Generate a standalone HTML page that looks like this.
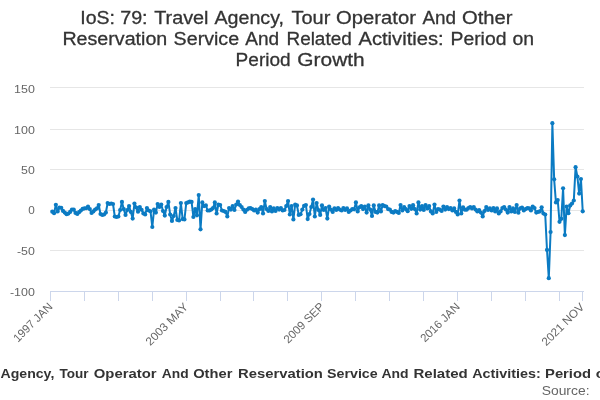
<!DOCTYPE html>
<html lang="en"><head><meta charset="utf-8"><title>IoS: 79: Travel Agency, Tour Operator And Other Reservation Service And Related Activities: Period on Period Growth</title>
<style>html,body{margin:0;padding:0;background:#ffffff;}body{width:600px;height:400px;overflow:hidden;font-family:"Liberation Sans",sans-serif;}svg{display:block;font-family:"Liberation Sans",sans-serif;will-change:transform;}</style></head><body>
<svg width="600" height="400" viewBox="0 0 600 400">
<rect x="0" y="0" width="600" height="400" fill="#ffffff"/>
<g stroke="#e6e6e6" stroke-width="1" fill="none">
<path d="M50 87.5H584"/>
<path d="M50 129.5H584"/>
<path d="M50 169.5H584"/>
<path d="M50 210.5H584"/>
<path d="M50 250.5H584"/>
</g>
<g stroke="#ccd6eb" stroke-width="1" fill="none">
<path d="M50 291.5H584"/>
<path d="M50.5 291V301"/>
<path d="M84.5 291V301"/>
<path d="M118.5 291V301"/>
<path d="M152.5 291V301"/>
<path d="M186.5 291V301"/>
<path d="M220.5 291V301"/>
<path d="M253.5 291V301"/>
<path d="M287.5 291V301"/>
<path d="M321.5 291V301"/>
<path d="M355.5 291V301"/>
<path d="M389.5 291V301"/>
<path d="M423.5 291V301"/>
<path d="M457.5 291V301"/>
<path d="M491.5 291V301"/>
<path d="M525.5 291V301"/>
<path d="M559.5 291V301"/>
<path d="M582.5 291V301"/>
</g>
<g class="series">
<path d="M52.29 211.72 L54.07 213.26 L55.86 204.73 L57.64 211.47 L59.43 207.50 L61.22 207.82 L63.00 210.91 L64.79 212.53 L66.57 214.24 L68.36 213.59 L70.15 211.88 L71.93 209.53 L73.72 209.53 L75.50 212.94 L77.29 213.91 L79.08 212.21 L80.86 210.50 L82.65 208.88 L84.43 208.31 L86.22 208.23 L88.01 206.52 L89.79 209.04 L91.58 213.02 L93.36 211.47 L95.15 209.53 L96.94 208.47 L98.72 204.98 L100.51 213.99 L102.29 214.97 L104.08 214.48 L105.87 212.53 L107.65 203.03 L109.44 204.00 L111.22 203.52 L113.01 204.00 L114.80 216.51 L116.58 217.00 L118.37 216.51 L120.15 210.01 L121.94 201.97 L123.73 209.04 L125.51 214.97 L127.30 210.01 L129.08 206.03 L130.87 211.96 L132.66 218.54 L134.44 203.52 L136.23 207.50 L138.01 211.72 L139.80 207.01 L141.59 209.77 L143.37 213.42 L145.16 214.48 L146.94 208.06 L148.73 210.50 L150.52 211.31 L152.30 226.98 L154.09 209.53 L155.87 212.53 L157.66 204.00 L159.45 207.01 L161.23 204.49 L163.02 210.99 L164.80 215.53 L166.59 207.01 L168.38 201.97 L170.16 214.48 L171.95 220.97 L173.73 216.02 L175.52 208.06 L177.31 220.00 L179.09 220.49 L180.88 203.03 L182.66 219.03 L184.45 219.43 L186.24 203.03 L188.02 202.46 L189.81 201.57 L191.59 201.97 L193.38 217.00 L195.17 209.04 L196.95 215.37 L198.74 195.07 L200.52 229.34 L202.31 202.38 L204.10 206.03 L205.88 205.47 L207.67 210.50 L209.45 210.50 L211.24 209.53 L213.03 208.06 L214.81 202.46 L216.60 213.50 L218.38 204.49 L220.17 204.98 L221.96 210.50 L223.74 210.99 L225.53 211.96 L227.31 216.51 L229.10 208.06 L230.89 209.53 L232.67 206.03 L234.46 210.01 L236.24 204.49 L238.03 201.57 L239.82 204.98 L241.60 207.01 L243.39 209.53 L245.17 211.96 L246.96 209.77 L248.75 208.47 L250.53 208.06 L252.32 209.04 L254.10 210.50 L255.89 209.53 L257.68 212.53 L259.46 209.04 L261.25 207.01 L263.03 213.50 L264.82 201.00 L266.61 209.04 L268.39 210.99 L270.18 207.01 L271.96 211.47 L273.75 208.47 L275.54 210.99 L277.32 208.06 L279.11 209.53 L280.89 208.06 L282.68 210.50 L284.47 210.01 L286.25 206.03 L288.04 201.00 L289.82 214.48 L291.61 206.03 L293.40 219.43 L295.18 204.49 L296.97 205.47 L298.75 214.97 L300.54 214.24 L302.33 209.53 L304.11 205.79 L305.90 204.98 L307.68 219.03 L309.47 213.99 L311.26 207.01 L313.04 199.54 L314.83 216.51 L316.61 203.03 L318.40 210.01 L320.19 214.97 L321.97 205.47 L323.76 210.01 L325.54 208.06 L327.33 218.54 L329.12 206.52 L330.90 209.53 L332.69 211.96 L334.47 208.47 L336.26 210.01 L338.05 208.06 L339.83 209.53 L341.62 210.50 L343.40 208.06 L345.19 210.01 L346.98 208.47 L348.76 211.96 L350.55 210.50 L352.33 209.04 L354.12 209.28 L355.91 202.46 L357.69 211.47 L359.48 207.25 L361.26 206.03 L363.05 209.04 L364.84 206.52 L366.62 212.53 L368.41 205.47 L370.19 209.53 L371.98 216.02 L373.77 205.47 L375.55 211.96 L377.34 212.53 L379.12 205.47 L380.91 211.47 L382.70 204.98 L384.48 206.03 L386.27 206.52 L388.05 209.04 L389.84 209.53 L391.63 211.96 L393.41 212.53 L395.20 210.99 L396.98 211.96 L398.77 212.94 L400.56 204.98 L402.34 210.50 L404.13 207.01 L405.91 209.04 L407.70 211.23 L409.49 206.03 L411.27 208.79 L413.06 205.22 L414.84 209.04 L416.63 213.50 L418.42 202.46 L420.20 209.53 L421.99 206.03 L423.77 210.01 L425.56 204.98 L427.35 208.47 L429.13 206.03 L430.92 211.47 L432.70 213.50 L434.49 204.49 L436.28 211.96 L438.06 209.04 L439.85 209.53 L441.63 210.99 L443.42 206.52 L445.21 209.53 L446.99 207.01 L448.78 209.04 L450.56 208.06 L452.35 210.50 L454.14 208.47 L455.92 211.96 L457.71 214.48 L459.49 200.51 L461.28 213.50 L463.07 207.25 L464.85 209.77 L466.64 209.69 L468.42 208.06 L470.21 207.01 L472.00 208.47 L473.78 207.01 L475.57 209.53 L477.35 211.47 L479.14 210.01 L480.93 212.53 L482.71 216.51 L484.50 210.99 L486.28 207.01 L488.07 210.01 L489.86 208.47 L491.64 210.50 L493.43 208.06 L495.21 211.47 L497.00 208.47 L498.79 213.50 L500.57 211.47 L502.36 208.06 L504.14 207.01 L505.93 209.53 L507.72 212.53 L509.50 207.01 L511.29 211.47 L513.07 208.47 L514.86 211.96 L516.65 204.98 L518.43 212.77 L520.22 208.31 L522.00 207.50 L523.79 210.50 L525.58 209.04 L527.36 208.06 L529.15 208.47 L530.93 210.50 L532.72 206.52 L534.51 208.06 L536.29 212.53 L538.08 211.96 L539.86 211.47 L541.65 207.25 L543.44 213.50 L545.22 214.48 L547.01 249.96 L548.79 278.14 L550.58 232.02 L552.37 123.21 L554.15 179.32 L555.94 202.46 L557.72 200.03 L559.51 221.79 L561.30 218.78 L563.08 188.25 L564.87 235.10 L566.65 206.52 L568.44 213.18 L570.23 205.47 L572.01 203.52 L573.80 200.51 L575.58 167.22 L577.37 176.48 L579.16 193.53 L580.94 178.99 L582.73 211.31" fill="none" stroke="#0b7bc3" stroke-width="2" stroke-linejoin="round" stroke-linecap="round"/>
<g fill="#0b7bc3">
<circle cx="52.29" cy="211.72" r="2.1"/>
<circle cx="54.07" cy="213.26" r="2.1"/>
<circle cx="55.86" cy="204.73" r="2.1"/>
<circle cx="57.64" cy="211.47" r="2.1"/>
<circle cx="59.43" cy="207.50" r="2.1"/>
<circle cx="61.22" cy="207.82" r="2.1"/>
<circle cx="63.00" cy="210.91" r="2.1"/>
<circle cx="64.79" cy="212.53" r="2.1"/>
<circle cx="66.57" cy="214.24" r="2.1"/>
<circle cx="68.36" cy="213.59" r="2.1"/>
<circle cx="70.15" cy="211.88" r="2.1"/>
<circle cx="71.93" cy="209.53" r="2.1"/>
<circle cx="73.72" cy="209.53" r="2.1"/>
<circle cx="75.50" cy="212.94" r="2.1"/>
<circle cx="77.29" cy="213.91" r="2.1"/>
<circle cx="79.08" cy="212.21" r="2.1"/>
<circle cx="80.86" cy="210.50" r="2.1"/>
<circle cx="82.65" cy="208.88" r="2.1"/>
<circle cx="84.43" cy="208.31" r="2.1"/>
<circle cx="86.22" cy="208.23" r="2.1"/>
<circle cx="88.01" cy="206.52" r="2.1"/>
<circle cx="89.79" cy="209.04" r="2.1"/>
<circle cx="91.58" cy="213.02" r="2.1"/>
<circle cx="93.36" cy="211.47" r="2.1"/>
<circle cx="95.15" cy="209.53" r="2.1"/>
<circle cx="96.94" cy="208.47" r="2.1"/>
<circle cx="98.72" cy="204.98" r="2.1"/>
<circle cx="100.51" cy="213.99" r="2.1"/>
<circle cx="102.29" cy="214.97" r="2.1"/>
<circle cx="104.08" cy="214.48" r="2.1"/>
<circle cx="105.87" cy="212.53" r="2.1"/>
<circle cx="107.65" cy="203.03" r="2.1"/>
<circle cx="109.44" cy="204.00" r="2.1"/>
<circle cx="111.22" cy="203.52" r="2.1"/>
<circle cx="113.01" cy="204.00" r="2.1"/>
<circle cx="114.80" cy="216.51" r="2.1"/>
<circle cx="116.58" cy="217.00" r="2.1"/>
<circle cx="118.37" cy="216.51" r="2.1"/>
<circle cx="120.15" cy="210.01" r="2.1"/>
<circle cx="121.94" cy="201.97" r="2.1"/>
<circle cx="123.73" cy="209.04" r="2.1"/>
<circle cx="125.51" cy="214.97" r="2.1"/>
<circle cx="127.30" cy="210.01" r="2.1"/>
<circle cx="129.08" cy="206.03" r="2.1"/>
<circle cx="130.87" cy="211.96" r="2.1"/>
<circle cx="132.66" cy="218.54" r="2.1"/>
<circle cx="134.44" cy="203.52" r="2.1"/>
<circle cx="136.23" cy="207.50" r="2.1"/>
<circle cx="138.01" cy="211.72" r="2.1"/>
<circle cx="139.80" cy="207.01" r="2.1"/>
<circle cx="141.59" cy="209.77" r="2.1"/>
<circle cx="143.37" cy="213.42" r="2.1"/>
<circle cx="145.16" cy="214.48" r="2.1"/>
<circle cx="146.94" cy="208.06" r="2.1"/>
<circle cx="148.73" cy="210.50" r="2.1"/>
<circle cx="150.52" cy="211.31" r="2.1"/>
<circle cx="152.30" cy="226.98" r="2.1"/>
<circle cx="154.09" cy="209.53" r="2.1"/>
<circle cx="155.87" cy="212.53" r="2.1"/>
<circle cx="157.66" cy="204.00" r="2.1"/>
<circle cx="159.45" cy="207.01" r="2.1"/>
<circle cx="161.23" cy="204.49" r="2.1"/>
<circle cx="163.02" cy="210.99" r="2.1"/>
<circle cx="164.80" cy="215.53" r="2.1"/>
<circle cx="166.59" cy="207.01" r="2.1"/>
<circle cx="168.38" cy="201.97" r="2.1"/>
<circle cx="170.16" cy="214.48" r="2.1"/>
<circle cx="171.95" cy="220.97" r="2.1"/>
<circle cx="173.73" cy="216.02" r="2.1"/>
<circle cx="175.52" cy="208.06" r="2.1"/>
<circle cx="177.31" cy="220.00" r="2.1"/>
<circle cx="179.09" cy="220.49" r="2.1"/>
<circle cx="180.88" cy="203.03" r="2.1"/>
<circle cx="182.66" cy="219.03" r="2.1"/>
<circle cx="184.45" cy="219.43" r="2.1"/>
<circle cx="186.24" cy="203.03" r="2.1"/>
<circle cx="188.02" cy="202.46" r="2.1"/>
<circle cx="189.81" cy="201.57" r="2.1"/>
<circle cx="191.59" cy="201.97" r="2.1"/>
<circle cx="193.38" cy="217.00" r="2.1"/>
<circle cx="195.17" cy="209.04" r="2.1"/>
<circle cx="196.95" cy="215.37" r="2.1"/>
<circle cx="198.74" cy="195.07" r="2.1"/>
<circle cx="200.52" cy="229.34" r="2.1"/>
<circle cx="202.31" cy="202.38" r="2.1"/>
<circle cx="204.10" cy="206.03" r="2.1"/>
<circle cx="205.88" cy="205.47" r="2.1"/>
<circle cx="207.67" cy="210.50" r="2.1"/>
<circle cx="209.45" cy="210.50" r="2.1"/>
<circle cx="211.24" cy="209.53" r="2.1"/>
<circle cx="213.03" cy="208.06" r="2.1"/>
<circle cx="214.81" cy="202.46" r="2.1"/>
<circle cx="216.60" cy="213.50" r="2.1"/>
<circle cx="218.38" cy="204.49" r="2.1"/>
<circle cx="220.17" cy="204.98" r="2.1"/>
<circle cx="221.96" cy="210.50" r="2.1"/>
<circle cx="223.74" cy="210.99" r="2.1"/>
<circle cx="225.53" cy="211.96" r="2.1"/>
<circle cx="227.31" cy="216.51" r="2.1"/>
<circle cx="229.10" cy="208.06" r="2.1"/>
<circle cx="230.89" cy="209.53" r="2.1"/>
<circle cx="232.67" cy="206.03" r="2.1"/>
<circle cx="234.46" cy="210.01" r="2.1"/>
<circle cx="236.24" cy="204.49" r="2.1"/>
<circle cx="238.03" cy="201.57" r="2.1"/>
<circle cx="239.82" cy="204.98" r="2.1"/>
<circle cx="241.60" cy="207.01" r="2.1"/>
<circle cx="243.39" cy="209.53" r="2.1"/>
<circle cx="245.17" cy="211.96" r="2.1"/>
<circle cx="246.96" cy="209.77" r="2.1"/>
<circle cx="248.75" cy="208.47" r="2.1"/>
<circle cx="250.53" cy="208.06" r="2.1"/>
<circle cx="252.32" cy="209.04" r="2.1"/>
<circle cx="254.10" cy="210.50" r="2.1"/>
<circle cx="255.89" cy="209.53" r="2.1"/>
<circle cx="257.68" cy="212.53" r="2.1"/>
<circle cx="259.46" cy="209.04" r="2.1"/>
<circle cx="261.25" cy="207.01" r="2.1"/>
<circle cx="263.03" cy="213.50" r="2.1"/>
<circle cx="264.82" cy="201.00" r="2.1"/>
<circle cx="266.61" cy="209.04" r="2.1"/>
<circle cx="268.39" cy="210.99" r="2.1"/>
<circle cx="270.18" cy="207.01" r="2.1"/>
<circle cx="271.96" cy="211.47" r="2.1"/>
<circle cx="273.75" cy="208.47" r="2.1"/>
<circle cx="275.54" cy="210.99" r="2.1"/>
<circle cx="277.32" cy="208.06" r="2.1"/>
<circle cx="279.11" cy="209.53" r="2.1"/>
<circle cx="280.89" cy="208.06" r="2.1"/>
<circle cx="282.68" cy="210.50" r="2.1"/>
<circle cx="284.47" cy="210.01" r="2.1"/>
<circle cx="286.25" cy="206.03" r="2.1"/>
<circle cx="288.04" cy="201.00" r="2.1"/>
<circle cx="289.82" cy="214.48" r="2.1"/>
<circle cx="291.61" cy="206.03" r="2.1"/>
<circle cx="293.40" cy="219.43" r="2.1"/>
<circle cx="295.18" cy="204.49" r="2.1"/>
<circle cx="296.97" cy="205.47" r="2.1"/>
<circle cx="298.75" cy="214.97" r="2.1"/>
<circle cx="300.54" cy="214.24" r="2.1"/>
<circle cx="302.33" cy="209.53" r="2.1"/>
<circle cx="304.11" cy="205.79" r="2.1"/>
<circle cx="305.90" cy="204.98" r="2.1"/>
<circle cx="307.68" cy="219.03" r="2.1"/>
<circle cx="309.47" cy="213.99" r="2.1"/>
<circle cx="311.26" cy="207.01" r="2.1"/>
<circle cx="313.04" cy="199.54" r="2.1"/>
<circle cx="314.83" cy="216.51" r="2.1"/>
<circle cx="316.61" cy="203.03" r="2.1"/>
<circle cx="318.40" cy="210.01" r="2.1"/>
<circle cx="320.19" cy="214.97" r="2.1"/>
<circle cx="321.97" cy="205.47" r="2.1"/>
<circle cx="323.76" cy="210.01" r="2.1"/>
<circle cx="325.54" cy="208.06" r="2.1"/>
<circle cx="327.33" cy="218.54" r="2.1"/>
<circle cx="329.12" cy="206.52" r="2.1"/>
<circle cx="330.90" cy="209.53" r="2.1"/>
<circle cx="332.69" cy="211.96" r="2.1"/>
<circle cx="334.47" cy="208.47" r="2.1"/>
<circle cx="336.26" cy="210.01" r="2.1"/>
<circle cx="338.05" cy="208.06" r="2.1"/>
<circle cx="339.83" cy="209.53" r="2.1"/>
<circle cx="341.62" cy="210.50" r="2.1"/>
<circle cx="343.40" cy="208.06" r="2.1"/>
<circle cx="345.19" cy="210.01" r="2.1"/>
<circle cx="346.98" cy="208.47" r="2.1"/>
<circle cx="348.76" cy="211.96" r="2.1"/>
<circle cx="350.55" cy="210.50" r="2.1"/>
<circle cx="352.33" cy="209.04" r="2.1"/>
<circle cx="354.12" cy="209.28" r="2.1"/>
<circle cx="355.91" cy="202.46" r="2.1"/>
<circle cx="357.69" cy="211.47" r="2.1"/>
<circle cx="359.48" cy="207.25" r="2.1"/>
<circle cx="361.26" cy="206.03" r="2.1"/>
<circle cx="363.05" cy="209.04" r="2.1"/>
<circle cx="364.84" cy="206.52" r="2.1"/>
<circle cx="366.62" cy="212.53" r="2.1"/>
<circle cx="368.41" cy="205.47" r="2.1"/>
<circle cx="370.19" cy="209.53" r="2.1"/>
<circle cx="371.98" cy="216.02" r="2.1"/>
<circle cx="373.77" cy="205.47" r="2.1"/>
<circle cx="375.55" cy="211.96" r="2.1"/>
<circle cx="377.34" cy="212.53" r="2.1"/>
<circle cx="379.12" cy="205.47" r="2.1"/>
<circle cx="380.91" cy="211.47" r="2.1"/>
<circle cx="382.70" cy="204.98" r="2.1"/>
<circle cx="384.48" cy="206.03" r="2.1"/>
<circle cx="386.27" cy="206.52" r="2.1"/>
<circle cx="388.05" cy="209.04" r="2.1"/>
<circle cx="389.84" cy="209.53" r="2.1"/>
<circle cx="391.63" cy="211.96" r="2.1"/>
<circle cx="393.41" cy="212.53" r="2.1"/>
<circle cx="395.20" cy="210.99" r="2.1"/>
<circle cx="396.98" cy="211.96" r="2.1"/>
<circle cx="398.77" cy="212.94" r="2.1"/>
<circle cx="400.56" cy="204.98" r="2.1"/>
<circle cx="402.34" cy="210.50" r="2.1"/>
<circle cx="404.13" cy="207.01" r="2.1"/>
<circle cx="405.91" cy="209.04" r="2.1"/>
<circle cx="407.70" cy="211.23" r="2.1"/>
<circle cx="409.49" cy="206.03" r="2.1"/>
<circle cx="411.27" cy="208.79" r="2.1"/>
<circle cx="413.06" cy="205.22" r="2.1"/>
<circle cx="414.84" cy="209.04" r="2.1"/>
<circle cx="416.63" cy="213.50" r="2.1"/>
<circle cx="418.42" cy="202.46" r="2.1"/>
<circle cx="420.20" cy="209.53" r="2.1"/>
<circle cx="421.99" cy="206.03" r="2.1"/>
<circle cx="423.77" cy="210.01" r="2.1"/>
<circle cx="425.56" cy="204.98" r="2.1"/>
<circle cx="427.35" cy="208.47" r="2.1"/>
<circle cx="429.13" cy="206.03" r="2.1"/>
<circle cx="430.92" cy="211.47" r="2.1"/>
<circle cx="432.70" cy="213.50" r="2.1"/>
<circle cx="434.49" cy="204.49" r="2.1"/>
<circle cx="436.28" cy="211.96" r="2.1"/>
<circle cx="438.06" cy="209.04" r="2.1"/>
<circle cx="439.85" cy="209.53" r="2.1"/>
<circle cx="441.63" cy="210.99" r="2.1"/>
<circle cx="443.42" cy="206.52" r="2.1"/>
<circle cx="445.21" cy="209.53" r="2.1"/>
<circle cx="446.99" cy="207.01" r="2.1"/>
<circle cx="448.78" cy="209.04" r="2.1"/>
<circle cx="450.56" cy="208.06" r="2.1"/>
<circle cx="452.35" cy="210.50" r="2.1"/>
<circle cx="454.14" cy="208.47" r="2.1"/>
<circle cx="455.92" cy="211.96" r="2.1"/>
<circle cx="457.71" cy="214.48" r="2.1"/>
<circle cx="459.49" cy="200.51" r="2.1"/>
<circle cx="461.28" cy="213.50" r="2.1"/>
<circle cx="463.07" cy="207.25" r="2.1"/>
<circle cx="464.85" cy="209.77" r="2.1"/>
<circle cx="466.64" cy="209.69" r="2.1"/>
<circle cx="468.42" cy="208.06" r="2.1"/>
<circle cx="470.21" cy="207.01" r="2.1"/>
<circle cx="472.00" cy="208.47" r="2.1"/>
<circle cx="473.78" cy="207.01" r="2.1"/>
<circle cx="475.57" cy="209.53" r="2.1"/>
<circle cx="477.35" cy="211.47" r="2.1"/>
<circle cx="479.14" cy="210.01" r="2.1"/>
<circle cx="480.93" cy="212.53" r="2.1"/>
<circle cx="482.71" cy="216.51" r="2.1"/>
<circle cx="484.50" cy="210.99" r="2.1"/>
<circle cx="486.28" cy="207.01" r="2.1"/>
<circle cx="488.07" cy="210.01" r="2.1"/>
<circle cx="489.86" cy="208.47" r="2.1"/>
<circle cx="491.64" cy="210.50" r="2.1"/>
<circle cx="493.43" cy="208.06" r="2.1"/>
<circle cx="495.21" cy="211.47" r="2.1"/>
<circle cx="497.00" cy="208.47" r="2.1"/>
<circle cx="498.79" cy="213.50" r="2.1"/>
<circle cx="500.57" cy="211.47" r="2.1"/>
<circle cx="502.36" cy="208.06" r="2.1"/>
<circle cx="504.14" cy="207.01" r="2.1"/>
<circle cx="505.93" cy="209.53" r="2.1"/>
<circle cx="507.72" cy="212.53" r="2.1"/>
<circle cx="509.50" cy="207.01" r="2.1"/>
<circle cx="511.29" cy="211.47" r="2.1"/>
<circle cx="513.07" cy="208.47" r="2.1"/>
<circle cx="514.86" cy="211.96" r="2.1"/>
<circle cx="516.65" cy="204.98" r="2.1"/>
<circle cx="518.43" cy="212.77" r="2.1"/>
<circle cx="520.22" cy="208.31" r="2.1"/>
<circle cx="522.00" cy="207.50" r="2.1"/>
<circle cx="523.79" cy="210.50" r="2.1"/>
<circle cx="525.58" cy="209.04" r="2.1"/>
<circle cx="527.36" cy="208.06" r="2.1"/>
<circle cx="529.15" cy="208.47" r="2.1"/>
<circle cx="530.93" cy="210.50" r="2.1"/>
<circle cx="532.72" cy="206.52" r="2.1"/>
<circle cx="534.51" cy="208.06" r="2.1"/>
<circle cx="536.29" cy="212.53" r="2.1"/>
<circle cx="538.08" cy="211.96" r="2.1"/>
<circle cx="539.86" cy="211.47" r="2.1"/>
<circle cx="541.65" cy="207.25" r="2.1"/>
<circle cx="543.44" cy="213.50" r="2.1"/>
<circle cx="545.22" cy="214.48" r="2.1"/>
<circle cx="547.01" cy="249.96" r="2.1"/>
<circle cx="548.79" cy="278.14" r="2.1"/>
<circle cx="550.58" cy="232.02" r="2.1"/>
<circle cx="552.37" cy="123.21" r="2.1"/>
<circle cx="554.15" cy="179.32" r="2.1"/>
<circle cx="555.94" cy="202.46" r="2.1"/>
<circle cx="557.72" cy="200.03" r="2.1"/>
<circle cx="559.51" cy="221.79" r="2.1"/>
<circle cx="561.30" cy="218.78" r="2.1"/>
<circle cx="563.08" cy="188.25" r="2.1"/>
<circle cx="564.87" cy="235.10" r="2.1"/>
<circle cx="566.65" cy="206.52" r="2.1"/>
<circle cx="568.44" cy="213.18" r="2.1"/>
<circle cx="570.23" cy="205.47" r="2.1"/>
<circle cx="572.01" cy="203.52" r="2.1"/>
<circle cx="573.80" cy="200.51" r="2.1"/>
<circle cx="575.58" cy="167.22" r="2.1"/>
<circle cx="577.37" cy="176.48" r="2.1"/>
<circle cx="579.16" cy="193.53" r="2.1"/>
<circle cx="580.94" cy="178.99" r="2.1"/>
<circle cx="582.73" cy="211.31" r="2.1"/>
</g></g>
<g class="title">
<text x="80.26" y="23.80" textLength="34.68" lengthAdjust="spacingAndGlyphs" font-size="18.9" font-weight="normal" fill="#333333" stroke="#333333" stroke-width="0.3">IoS:</text>
<text x="120.16" y="23.80" textLength="27.45" lengthAdjust="spacingAndGlyphs" font-size="18.9" font-weight="normal" fill="#333333" stroke="#333333" stroke-width="0.3">79:</text>
<text x="154.18" y="23.80" textLength="54.33" lengthAdjust="spacingAndGlyphs" font-size="18.9" font-weight="normal" fill="#333333" stroke="#333333" stroke-width="0.3">Travel</text>
<text x="214.44" y="23.80" textLength="69.60" lengthAdjust="spacingAndGlyphs" font-size="18.9" font-weight="normal" fill="#333333" stroke="#333333" stroke-width="0.3">Agency,</text>
<text x="291.50" y="23.80" textLength="38.81" lengthAdjust="spacingAndGlyphs" font-size="18.9" font-weight="normal" fill="#333333" stroke="#333333" stroke-width="0.3">Tour</text>
<text x="336.10" y="23.80" textLength="79.81" lengthAdjust="spacingAndGlyphs" font-size="18.9" font-weight="normal" fill="#333333" stroke="#333333" stroke-width="0.3">Operator</text>
<text x="422.51" y="23.80" textLength="33.62" lengthAdjust="spacingAndGlyphs" font-size="18.9" font-weight="normal" fill="#333333" stroke="#333333" stroke-width="0.3">And</text>
<text x="461.96" y="23.80" textLength="50.47" lengthAdjust="spacingAndGlyphs" font-size="18.9" font-weight="normal" fill="#333333" stroke="#333333" stroke-width="0.3">Other</text>
<text x="62.42" y="44.60" textLength="104.89" lengthAdjust="spacingAndGlyphs" font-size="18.9" font-weight="normal" fill="#333333" stroke="#333333" stroke-width="0.3">Reservation</text>
<text x="173.64" y="44.60" textLength="65.50" lengthAdjust="spacingAndGlyphs" font-size="18.9" font-weight="normal" fill="#333333" stroke="#333333" stroke-width="0.3">Service</text>
<text x="245.25" y="44.60" textLength="33.84" lengthAdjust="spacingAndGlyphs" font-size="18.9" font-weight="normal" fill="#333333" stroke="#333333" stroke-width="0.3">And</text>
<text x="286.46" y="44.60" textLength="65.27" lengthAdjust="spacingAndGlyphs" font-size="18.9" font-weight="normal" fill="#333333" stroke="#333333" stroke-width="0.3">Related</text>
<text x="358.49" y="44.60" textLength="85.17" lengthAdjust="spacingAndGlyphs" font-size="18.9" font-weight="normal" fill="#333333" stroke="#333333" stroke-width="0.3">Activities:</text>
<text x="450.47" y="44.60" textLength="55.94" lengthAdjust="spacingAndGlyphs" font-size="18.9" font-weight="normal" fill="#333333" stroke="#333333" stroke-width="0.3">Period</text>
<text x="512.56" y="44.60" textLength="21.59" lengthAdjust="spacingAndGlyphs" font-size="18.9" font-weight="normal" fill="#333333" stroke="#333333" stroke-width="0.3">on</text>
<text x="235.62" y="65.80" textLength="55.00" lengthAdjust="spacingAndGlyphs" font-size="18.9" font-weight="normal" fill="#333333" stroke="#333333" stroke-width="0.3">Period</text>
<text x="297.39" y="65.80" textLength="67.24" lengthAdjust="spacingAndGlyphs" font-size="18.9" font-weight="normal" fill="#333333" stroke="#333333" stroke-width="0.3">Growth</text>
</g><g class="yaxis-labels">
<text x="14.06" y="93.20" textLength="20.76" lengthAdjust="spacingAndGlyphs" font-size="11.55" font-weight="normal" fill="#666666">150</text>
<text x="14.06" y="133.60" textLength="20.76" lengthAdjust="spacingAndGlyphs" font-size="11.55" font-weight="normal" fill="#666666">100</text>
<text x="21.08" y="174.10" textLength="13.68" lengthAdjust="spacingAndGlyphs" font-size="11.55" font-weight="normal" fill="#666666">50</text>
<text x="28.22" y="214.00" textLength="6.52" lengthAdjust="spacingAndGlyphs" font-size="11.55" font-weight="normal" fill="#666666">0</text>
<text x="16.98" y="255.00" textLength="17.87" lengthAdjust="spacingAndGlyphs" font-size="11.55" font-weight="normal" fill="#666666">-50</text>
<text x="9.97" y="296.10" textLength="24.88" lengthAdjust="spacingAndGlyphs" font-size="11.55" font-weight="normal" fill="#666666">-100</text>
</g><g class="xaxis-labels">
<g transform="translate(53.39 307.30) rotate(-45)"><text x="-50.22" y="0.00" textLength="50.08" lengthAdjust="spacingAndGlyphs" font-size="11.55" font-weight="normal" fill="#666666">1997 JAN</text></g>
<g transform="translate(188.28 308.15) rotate(-45)"><text x="-53.80" y="0.00" textLength="54.46" lengthAdjust="spacingAndGlyphs" font-size="11.55" font-weight="normal" fill="#666666">2003 MAY</text></g>
<g transform="translate(324.65 307.51) rotate(-45)"><text x="-51.55" y="0.00" textLength="51.80" lengthAdjust="spacingAndGlyphs" font-size="11.55" font-weight="normal" fill="#666666">2009 SEP</text></g>
<g transform="translate(460.60 307.30) rotate(-45)"><text x="-50.31" y="0.00" textLength="50.14" lengthAdjust="spacingAndGlyphs" font-size="11.55" font-weight="normal" fill="#666666">2016 JAN</text></g>
<g transform="translate(584.91 308.01) rotate(-45)"><text x="-54.59" y="0.00" textLength="54.84" lengthAdjust="spacingAndGlyphs" font-size="11.55" font-weight="normal" fill="#666666">2021 NOV</text></g>
</g><g class="subtitle">
<text x="-103.0" y="377.70" textLength="26.5" lengthAdjust="spacingAndGlyphs" font-size="12.6" font-weight="bold" fill="#333333">IoS:</text>
<text x="-70.5" y="377.70" textLength="22.0" lengthAdjust="spacingAndGlyphs" font-size="12.6" font-weight="bold" fill="#333333">79:</text>
<text x="-42.5" y="377.70" textLength="41.5" lengthAdjust="spacingAndGlyphs" font-size="12.6" font-weight="bold" fill="#333333">Travel</text>
<text x="0.56" y="377.70" textLength="53.77" lengthAdjust="spacingAndGlyphs" font-size="12.6" font-weight="bold" fill="#333333">Agency,</text>
<text x="59.55" y="377.70" textLength="29.01" lengthAdjust="spacingAndGlyphs" font-size="12.6" font-weight="bold" fill="#333333">Tour</text>
<text x="93.73" y="377.70" textLength="62.83" lengthAdjust="spacingAndGlyphs" font-size="12.6" font-weight="bold" fill="#333333">Operator</text>
<text x="161.82" y="377.70" textLength="26.81" lengthAdjust="spacingAndGlyphs" font-size="12.6" font-weight="bold" fill="#333333">And</text>
<text x="193.20" y="377.70" textLength="39.17" lengthAdjust="spacingAndGlyphs" font-size="12.6" font-weight="bold" fill="#333333">Other</text>
<text x="238.11" y="377.70" textLength="84.81" lengthAdjust="spacingAndGlyphs" font-size="12.6" font-weight="bold" fill="#333333">Reservation</text>
<text x="327.04" y="377.70" textLength="50.64" lengthAdjust="spacingAndGlyphs" font-size="12.6" font-weight="bold" fill="#333333">Service</text>
<text x="381.53" y="377.70" textLength="27.14" lengthAdjust="spacingAndGlyphs" font-size="12.6" font-weight="bold" fill="#333333">And</text>
<text x="413.45" y="377.70" textLength="54.36" lengthAdjust="spacingAndGlyphs" font-size="12.6" font-weight="bold" fill="#333333">Related</text>
<text x="472.16" y="377.70" textLength="68.58" lengthAdjust="spacingAndGlyphs" font-size="12.6" font-weight="bold" fill="#333333">Activities:</text>
<text x="545.02" y="377.70" textLength="46.03" lengthAdjust="spacingAndGlyphs" font-size="12.6" font-weight="bold" fill="#333333">Period</text>
<text x="595.73" y="377.70" textLength="18.34" lengthAdjust="spacingAndGlyphs" font-size="12.6" font-weight="bold" fill="#333333">on</text>
<text x="620.5" y="377.70" textLength="45.5" lengthAdjust="spacingAndGlyphs" font-size="12.6" font-weight="bold" fill="#333333">Period</text>
<text x="672.5" y="377.70" textLength="50.5" lengthAdjust="spacingAndGlyphs" font-size="12.6" font-weight="bold" fill="#333333">Growth</text>
</g>
<text x="541.67" y="394.90" textLength="47.84" lengthAdjust="spacingAndGlyphs" font-size="12.6" font-weight="normal" fill="#666666">Source:</text>
</svg></body></html>
